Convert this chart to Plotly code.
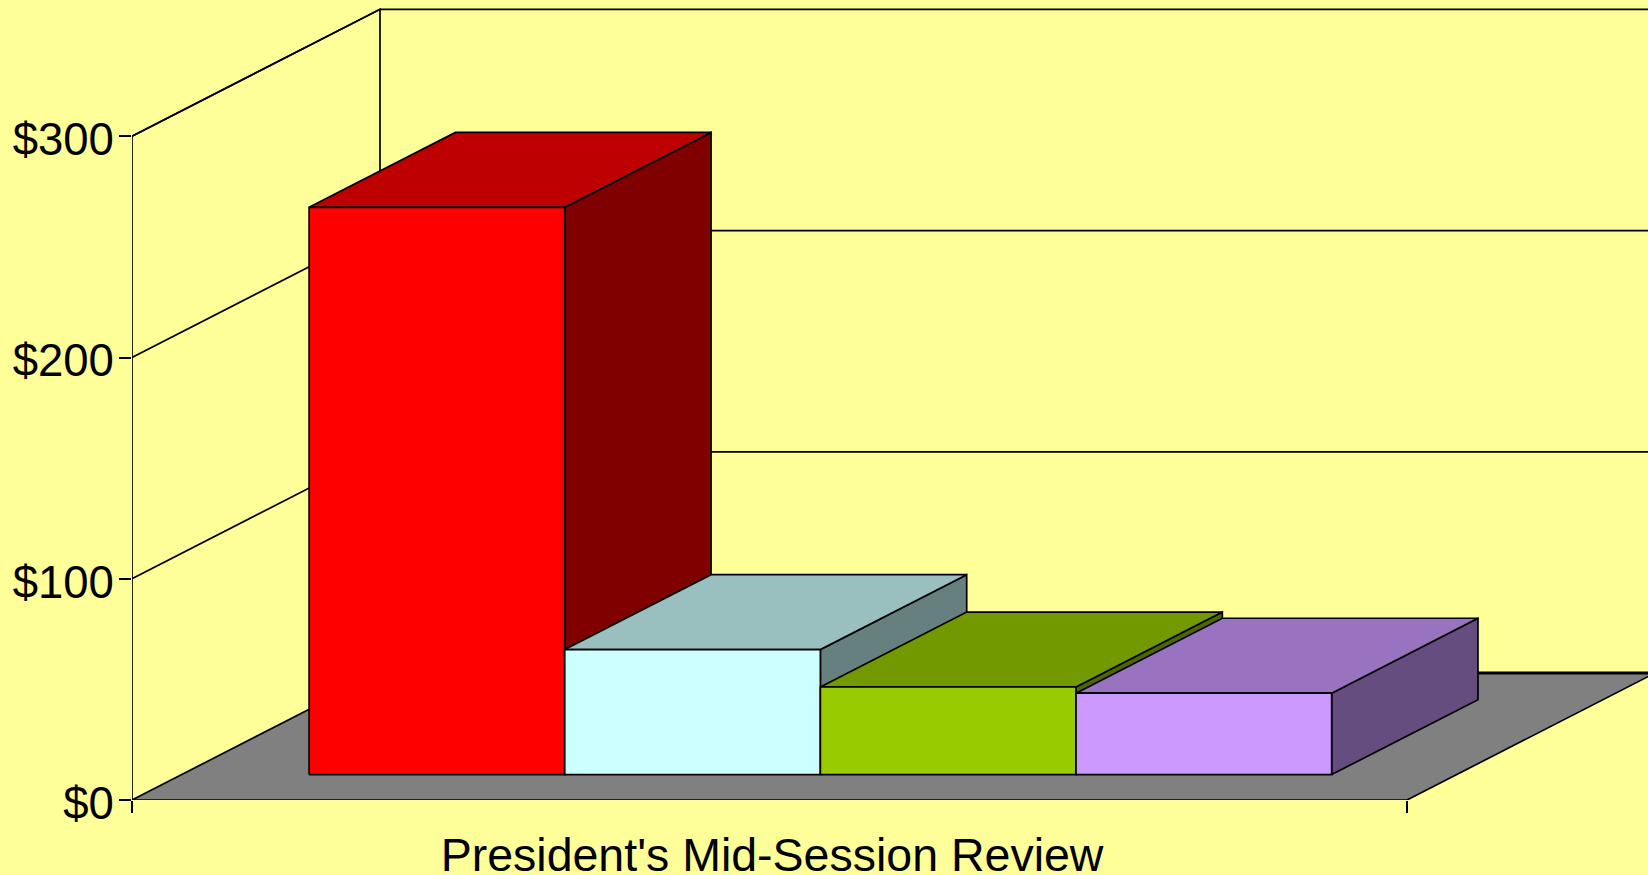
import plotly.graph_objects as go

# ---- data ----
category = "President's Mid-Session Review"
series_names = ["Series 1", "Series 2", "Series 3", "Series 4"]
series_values = [256.4, 56.5, 39.6, 36.8]
tick_values = [0, 100, 200, 300]
tick_labels = ["$0", "$100", "$200", "$300"]
front_colors = ["#FF0000", "#CCFFFF", "#99CC00", "#CC99FF"]
top_colors = ["#BF0000", "#99BFBF", "#739900", "#9973BF"]
side_colors = ["#800000", "#668080", "#4D6600", "#664D80"]

# ---- oblique projection (depth 0 = front, 1 = back wall) ----
DX = 248 / 1275      # x-axis units per full depth
DY = 57.4            # value units per full depth
BAR_X0, BAR_W = 0.1, 0.2005
D0, D1 = 0.2, 0.79
LW = 1.7
BG = "#FFFF99"


def proj(x, v, d):
    return x + d * DX, v + d * DY


def poly(pts, fill=None, name="", width=LW, close=True):
    coords = [proj(*p) for p in pts]
    if close:
        coords.append(coords[0])
    return go.Scatter(
        x=[c[0] for c in coords], y=[c[1] for c in coords],
        mode="lines", name=name, showlegend=False, hoverinfo="skip",
        line=dict(color="#000000", width=width),
        fill="toself" if fill else "none", fillcolor=fill,
        cliponaxis=False,
    )


fig = go.Figure()
top = tick_values[-1]

# floor
fig.add_trace(poly([(0, 0, 0), (1, 0, 0), (1, 0, 1), (0, 0, 1)], "#808080", "floor"))
# back wall base (heavier)
fig.add_trace(poly([(0, 0, 1), (1.1, 0, 1)], name="wall base", width=2.8, close=False))
# wall frame
fig.add_trace(poly([(0, 0, 0), (0, top, 0), (0, top, 1), (0, 0, 1)], name="side wall", close=False))
# gridlines
for t in tick_values[1:]:
    fig.add_trace(poly([(0, t, 0), (0, t, 1), (1.1, t, 1)], name=f"grid {t}", close=False))

# bars, left to right: side, top, front
for i, v in enumerate(series_values):
    x0 = BAR_X0 + i * BAR_W
    x1 = x0 + BAR_W
    fig.add_trace(poly([(x1, 0, D0), (x1, 0, D1), (x1, v, D1), (x1, v, D0)],
                       side_colors[i], series_names[i] + " side"))
    fig.add_trace(poly([(x0, v, D0), (x1, v, D0), (x1, v, D1), (x0, v, D1)],
                       top_colors[i], series_names[i] + " top"))
    fig.add_trace(poly([(x0, 0, D0), (x1, 0, D0), (x1, v, D0), (x0, v, D0)],
                       front_colors[i], series_names[i]))

fig.update_layout(
    width=1648, height=875,
    margin=dict(l=132, r=0, t=0, b=75),
    paper_bgcolor=BG, plot_bgcolor=BG,
    showlegend=False,
    font=dict(family="Liberation Sans, Arial, sans-serif", size=45, color="#000000"),
    xaxis=dict(
        range=[0, (1648 - 132) / 1275], showgrid=False, zeroline=False, showline=False,
        automargin=False,
        tickmode="array", tickvals=[0.502], ticktext=[category], ticks="",
        ticklabelstandoff=23, tickfont=dict(size=46.5),
        minor=dict(tickmode="array", tickvals=[0, 1], ticks="outside", ticklen=12,
                   tickwidth=LW, tickcolor="#000000", showgrid=False),
    ),
    yaxis=dict(
        range=[0, 800 / (663.7 / 300)], showgrid=False, zeroline=False, showline=False,
        automargin=False,
        tickmode="array", tickvals=tick_values, ticktext=tick_labels,
        ticks="outside", ticklen=12, tickwidth=LW, tickcolor="#000000",
        tickfont=dict(size=45.5), ticklabelstandoff=-4, ticklabelshift=3,
    ),
)

fig.write_html("out.html", config={"displayModeBar": False},
               post_script="document.body.style.margin='0';document.documentElement.style.overflow='hidden';")
